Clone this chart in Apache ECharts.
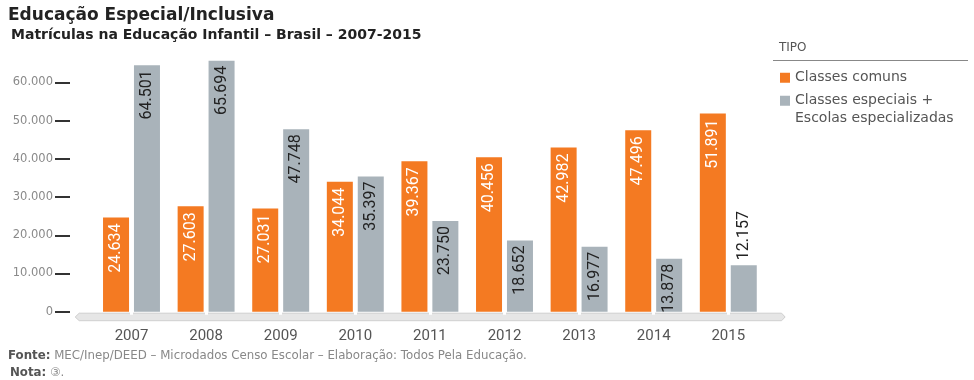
<!DOCTYPE html>
<html>
<head>
<meta charset="utf-8">
<script src="https://cdn.jsdelivr.net/npm/echarts@6/dist/echarts.min.js"></script>
<style>
html,body{margin:0;padding:0;background:#fff;}
#c{width:974px;height:380px;}
</style>
</head>
<body>
<div id="c"></div>
<script>
const categories = ['2007','2008','2009','2010','2011','2012','2013','2014','2015'];
const classesComuns = [24634, 27603, 27031, 34044, 39367, 40456, 42982, 47496, 51891];
const classesEspeciais = [64501, 65694, 47748, 35397, 23750, 18652, 16977, 13878, 12157];
const yTickValues = [0, 10000, 20000, 30000, 40000, 50000, 60000];
const seriesNames = ['Classes comuns', 'Classes especiais + Escolas especializadas'];

const ORANGE = '#F47A22';
const GRAY = '#A9B3BA';
const GRID = { left: 94.2, right: 208.4, top: 44.3, bottom: 68.3 };
const W = 974, H = 380;
const baseY = H - GRID.bottom;
const gx0 = GRID.left, gx1 = W - GRID.right;

function fmt(n){ return String(n).replace(/\B(?=(\d{3})+(?!\d))/g, '.'); }

const labelFont = "Roboto, 'Liberation Sans Narrow', sans-serif";

const chart = echarts.init(document.getElementById('c'), null, { renderer: 'canvas' });

const especiaisData = classesEspeciais.map(function(v){
  if (v < 13000) {
    return { value: v, label: { position: 'top', align: 'left', verticalAlign: 'middle', distance: 5 } };
  }
  return v;
});

chart.setOption({
  animation: false,
  backgroundColor: '#fff',
  title: [
    { text: 'Educação Especial/Inclusiva', left: 8, top: 7, padding: 0,
      textStyle: { fontFamily: 'DejaVu Sans', fontWeight: 'bold', fontSize: 17, color: '#222' } },
    { text: 'Matrículas na Educação Infantil – Brasil – 2007-2015', left: 11, top: 28, padding: 0,
      textStyle: { fontFamily: 'DejaVu Sans', fontWeight: 'bold', fontSize: 14, color: '#222' } }
  ],
  legend: {
    orient: 'vertical', left: 775, top: 64, itemWidth: 10, itemHeight: 10, itemGap: -12,
    icon: 'rect',
    data: [ { name: seriesNames[0] }, { name: seriesNames[1] } ],
    formatter: function(name){ return name === seriesNames[1] ? '\nClasses especiais +\nEscolas especializadas' : name; },
    textStyle: { fontFamily: 'DejaVu Sans', fontSize: 14, color: '#555', lineHeight: 17.5 }
  },
  grid: GRID,
  xAxis: {
    type: 'category', data: categories, offset: 4,
    axisLine: { show: false },
    axisTick: { show: true, alignWithLabel: true, inside: false, length: 3, lineStyle: { color: '#fff', width: 3 } },
    axisLabel: { margin: 13, color: '#555', fontFamily: "Roboto, sans-serif", fontSize: 15 },
    z: 5
  },
  yAxis: {
    type: 'value', min: 0, max: 70000, interval: 10000, offset: 24.2,
    splitLine: { show: false },
    axisLine: { show: false },
    axisTick: { show: true, length: 15, customValues: yTickValues, lineStyle: { color: '#333', width: 2 } },
    axisLabel: { margin: 17, customValues: yTickValues, color: '#8a8a8a', fontFamily: 'DejaVu Sans', fontSize: 11.5,
      formatter: function(v){ return fmt(v); } }
  },
  series: [
    { name: seriesNames[0], type: 'bar', data: classesComuns, barWidth: 26, barGap: '19%',
      itemStyle: { color: ORANGE },
      label: { show: true, position: 'insideTop', rotate: 90, align: 'right', verticalAlign: 'middle', distance: 6,
        color: '#fff', fontFamily: labelFont, fontSize: 16, formatter: function(p){ return fmt(p.value); } } },
    { name: seriesNames[1], type: 'bar', data: especiaisData, barWidth: 26, barGap: '19%',
      itemStyle: { color: GRAY },
      label: { show: true, position: 'insideTop', rotate: 90, align: 'right', verticalAlign: 'middle', distance: 5,
        color: '#222', fontFamily: labelFont, fontSize: 16, formatter: function(p){ return fmt(p.value); } } }
  ],
  graphic: [
    { type: 'polygon', z: 1, silent: true,
      shape: { points: [[gx0 - 19, baseY + 5.3], [gx0 - 15, baseY + 1.5], [gx1 + 16, baseY + 1.5], [gx1 + 19.5, baseY + 5.3], [gx1 + 16, baseY + 9], [gx0 - 15, baseY + 9]] },
      style: { fill: '#e6e6e6', stroke: '#cfcfcf', lineWidth: 1 } },
    { type: 'text', left: 779, top: 42, silent: true,
      style: { text: 'TIPO', fontFamily: 'DejaVu Sans', fontSize: 12, fill: '#555' } },
    { type: 'line', silent: true, shape: { x1: 773, y1: 60.5, x2: 968, y2: 60.5 }, style: { stroke: '#888', lineWidth: 1 } },
    { type: 'text', left: 8, top: 350, silent: true,
      style: { text: '{b|Fonte:} MEC/Inep/DEED – Microdados Censo Escolar – Elaboração: Todos Pela Educação.',
        fontFamily: 'DejaVu Sans', fontSize: 11.8, fill: '#888',
        rich: { b: { fontFamily: 'DejaVu Sans', fontWeight: 'bold', fontSize: 11.8, fill: '#555' } } } },
    { type: 'text', left: 10, top: 367, silent: true,
      style: { text: '{b|Nota:} ③.', fontFamily: 'DejaVu Sans', fontSize: 11.8, fill: '#888',
        rich: { b: { fontFamily: 'DejaVu Sans', fontWeight: 'bold', fontSize: 11.8, fill: '#555' } } } }
  ]
});
</script>
</body>
</html>
